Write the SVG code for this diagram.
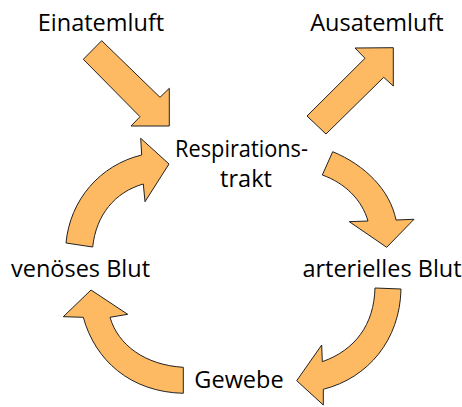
<svg xmlns="http://www.w3.org/2000/svg" width="462" height="407" viewBox="0 0 462 407">
<style>
.lbl{font-family:"Open Sans","Liberation Sans",sans-serif;font-size:23.5px;fill:#000;text-anchor:middle}
.arr{fill:#FEBA63;stroke:#222;stroke-width:1;stroke-linejoin:miter}
</style>
<rect width="462" height="407" fill="#fff"/>
<g id="connectors">
<path id="arr-in" class="arr" d="M101.7,40.7 L160,97.3 L169.3,88.3 L169.3,126 L131,126 L140,116.7 L83.3,59.3 Z"/>
<path id="arr-out" class="arr" d="M307,116 L365,58.3 L355,48 L393.3,47.7 L393.3,86 L383.7,77.3 L326,134 Z"/>
<path id="arr-resp-art" class="arr" d="M332.7,151.7 C365,165 390,190 396,220 L414,219.3 L386.7,247.3 L349.3,221.7 L368,221 C362,200 345,183 322.3,175 Z"/>
<path id="arr-art-gew" class="arr" d="M375,288 C374,325 355,350 322.3,361.7 L321.7,345 L296.7,380.7 L323.3,405 L323.3,389.3 C368,378 400,340 401,289 Z"/>
<path id="arr-gew-ven" class="arr" d="M183.3,367.3 C145,365 118,345 110,317.3 L127.7,314.3 L91,290 L63.3,316.7 L83.3,317.3 C95,360 130,392 183.3,393.3 Z"/>
<path id="arr-ven-resp" class="arr" d="M66,243 C70,200 100,165 141.7,155 L140.7,138.3 L169,164 L145,201.7 L143.3,184 C115,192 96,215 92.7,247 Z"/>
</g>
<g id="node-einatemluft"><text class="lbl" x="101" y="31">Einatemluft</text></g>
<g id="node-ausatemluft"><text class="lbl" x="377" y="31">Ausatemluft</text></g>
<g id="node-respirationstrakt"><text class="lbl" x="241.5" y="157" textLength="133" lengthAdjust="spacingAndGlyphs">Respirations-</text><text class="lbl" x="246" y="187">trakt</text></g>
<g id="node-venoeses-blut"><text class="lbl" x="80.5" y="277">venöses Blut</text></g>
<g id="node-arterielles-blut"><text class="lbl" x="382" y="277">arterielles Blut</text></g>
<g id="node-gewebe"><text class="lbl" x="239" y="388">Gewebe</text></g>
</svg>
